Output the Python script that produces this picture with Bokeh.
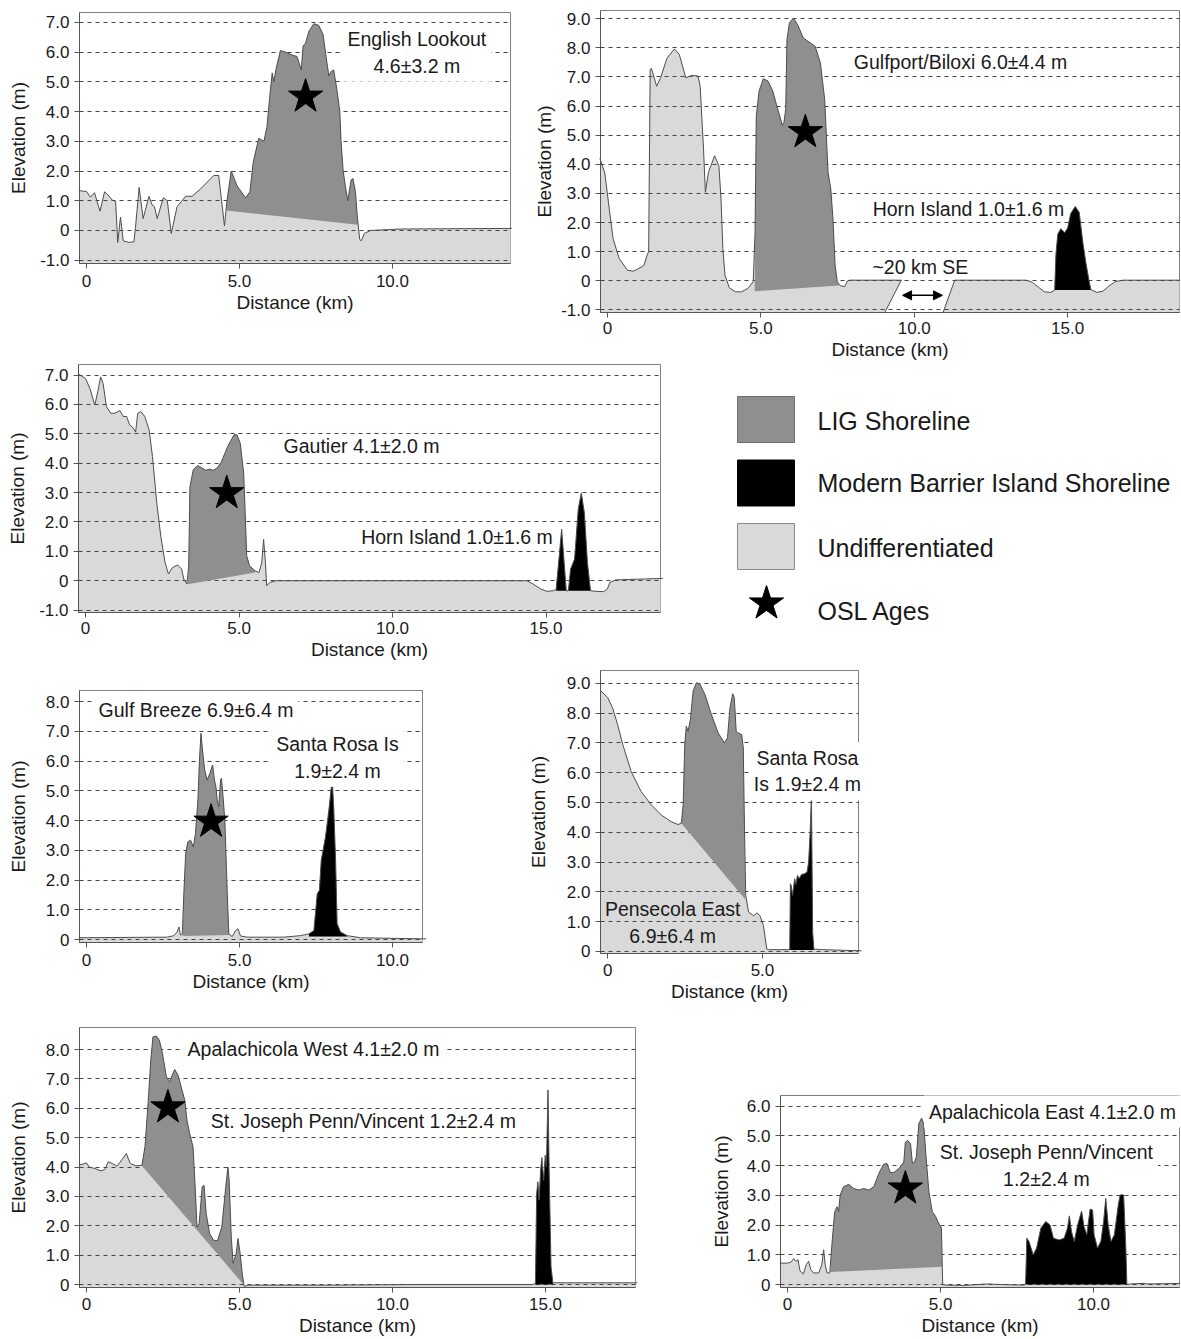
from bokeh.plotting import figure
from bokeh.layouts import column, row
from bokeh.models import Range1d, FixedTicker, Arrow, NormalHead
from bokeh.core.properties import value
from bokeh.embed import file_html
from bokeh.resources import INLINE

FONT = "Liberation Sans"
C_UNDIFF = "#d9d9d9"
C_LIG = "#8f8f8f"
C_MODERN = "#000000"
C_OUT = "#4d4d4d"
TXT = "#1a1a1a"

# ---------------- data (distance km, elevation m) ----------------
p1_profile = [(-0.25, 1.34), (0.0, 1.31), (0.13, 1.12), (0.26, 1.27), (0.44, 0.65), (0.59, 1.30),
              (0.70, 1.20), (0.84, 1.02), (0.95, 0.98), (1.02, -0.40), (1.11, 0.45), (1.20, -0.35),
              (1.38, -0.40), (1.55, -0.38), (1.60, 0.10), (1.72, 1.45), (1.85, 0.40), (2.04, 1.15),
              (2.15, 0.85), (2.22, 0.80), (2.31, 0.40), (2.51, 1.10), (2.64, 1.00), (2.77, -0.10),
              (2.96, 0.80), (3.24, 1.15), (3.45, 1.15), (3.73, 1.40), (4.16, 1.85), (4.32, 1.85),
              (4.51, 0.15), (4.58, 0.90), (4.73, 2.00), (4.92, 1.50), (5.20, 1.10), (5.34, 1.30),
              (5.45, 2.30), (5.63, 3.10), (5.80, 3.00), (5.90, 3.50), (5.99, 4.50), (6.07, 5.30),
              (6.12, 5.00), (6.21, 5.50), (6.34, 6.05), (6.50, 6.00), (6.72, 5.90), (6.88, 5.85),
              (7.02, 5.40), (7.08, 6.20), (7.16, 6.30), (7.27, 6.70), (7.43, 6.95), (7.59, 6.90),
              (7.73, 6.60), (7.81, 6.00), (7.92, 5.20), (8.00, 5.35), (8.08, 5.40), (8.19, 4.70),
              (8.28, 4.00), (8.32, 3.00), (8.39, 2.00), (8.46, 1.50), (8.54, 1.00), (8.65, 1.70),
              (8.71, 1.75), (8.79, 1.30), (8.85, 0.50), (8.93, -0.30), (8.98, -0.35), (9.08, -0.10),
              (9.28, 0.00), (10.26, 0.05), (13.9, 0.07)]
p1_lig_base = (4.58, 0.67, 8.87, 0.19)
p1_star = (7.16, 4.50)

p2a_profile = [(-0.25, 4.20), (-0.09, 3.70), (0.04, 2.60), (0.18, 1.45), (0.38, 0.76), (0.65, 0.36),
               (0.85, 0.33), (1.12, 0.48), (1.19, 0.54), (1.29, 0.88), (1.34, 1.00), (1.39, 7.25),
               (1.43, 7.30), (1.60, 6.68), (1.73, 6.97), (1.94, 7.65), (2.18, 7.96), (2.34, 7.77),
               (2.55, 6.97), (2.75, 7.05), (2.95, 7.03), (3.02, 6.68), (3.13, 4.52), (3.19, 3.04),
               (3.29, 3.72), (3.49, 4.29), (3.63, 3.95), (3.70, 2.81), (3.76, 1.10), (3.83, 0.19),
               (3.97, -0.24), (4.17, -0.38), (4.37, -0.38), (4.58, -0.26), (4.75, -0.03), (4.81, 1.67),
               (4.85, 5.66), (4.94, 6.51), (5.08, 6.94), (5.23, 6.86), (5.39, 6.51), (5.52, 6.00),
               (5.70, 5.34), (5.75, 5.43), (5.81, 5.89), (5.85, 8.28), (5.93, 8.85), (6.06, 9.02),
               (6.20, 8.79), (6.38, 8.34), (6.54, 8.22), (6.77, 8.05), (6.94, 7.48), (7.08, 6.23),
               (7.19, 3.72), (7.28, 3.15), (7.35, 2.13), (7.42, 0.54), (7.49, -0.03), (7.59, -0.17),
               (7.73, -0.20), (7.82, -0.01), (7.89, 0.02), (9.58, 0.02)]
p2b_profile = [(11.32, 0.02), (13.65, 0.02), (13.85, -0.05), (14.05, -0.22), (14.25, -0.38),
               (14.45, -0.40), (14.58, -0.32), (14.62, 0.90), (14.68, 1.60), (14.78, 1.79),
               (14.90, 1.65), (15.00, 1.80), (15.10, 2.30), (15.25, 2.55), (15.38, 2.35),
               (15.50, 1.30), (15.60, 0.60), (15.70, 0.00), (15.76, -0.30), (15.95, -0.40),
               (16.15, -0.36), (16.35, -0.18), (16.55, -0.03), (16.80, 0.02), (18.80, 0.02)]
p2_break_bottom = (9.04, 10.94)
p2_arrow_x = (9.62, 10.92)
p2_arrow_y = -0.50
p2_lig_base = (4.80, -0.36, 7.55, -0.16)
p2_modern = (14.58, 15.76, -0.32)
p2_star = (6.45, 5.10)

p3_profile = [(-0.25, 7.05), (0.0, 6.88), (0.14, 6.55), (0.30, 5.98), (0.41, 6.49), (0.49, 6.94),
              (0.57, 6.72), (0.68, 5.93), (0.82, 5.70), (0.95, 5.70), (1.12, 5.79), (1.23, 5.59),
              (1.34, 5.59), (1.43, 5.31), (1.53, 5.23), (1.63, 5.06), (1.70, 5.70), (1.80, 5.76),
              (1.93, 5.59), (2.07, 5.14), (2.18, 4.23), (2.32, 2.65), (2.45, 1.52), (2.59, 0.62),
              (2.70, 0.23), (2.83, 0.45), (3.00, 0.54), (3.13, 0.40), (3.20, 0.06), (3.30, -0.11),
              (3.36, 0.50), (3.40, 3.20), (3.51, 3.78), (3.65, 3.92), (3.79, 3.84), (3.92, 3.76),
              (4.03, 3.80), (4.16, 3.76), (4.29, 3.84), (4.43, 4.06), (4.63, 4.57), (4.84, 4.97),
              (4.93, 4.97), (5.04, 4.68), (5.15, 3.67), (5.20, 2.31), (5.25, 0.85), (5.34, 0.51),
              (5.52, 0.34), (5.65, 0.28), (5.74, 0.62), (5.80, 1.41), (5.86, 0.62), (5.90, -0.17),
              (6.00, -0.06), (6.20, 0.00), (14.38, 0.00), (14.58, -0.11), (14.83, -0.28),
              (15.03, -0.36), (15.23, -0.34), (15.33, -0.30), (15.51, 1.75), (15.66, -0.34),
              (15.73, -0.34), (15.80, 0.40), (15.93, 0.73), (16.05, 2.43), (16.15, 2.99),
              (16.25, 2.31), (16.35, 0.62), (16.45, -0.34), (16.63, -0.36), (16.88, -0.37),
              (17.00, -0.28), (17.08, -0.06), (17.28, 0.03), (18.80, 0.08)]
p3_lig_base = (3.33, -0.12, 5.52, 0.28)
p3_modern = (15.33, 16.45, -0.34)
p3_star = (4.60, 2.98)

p4_profile = [(-0.25, 0.06), (2.64, 0.08), (2.85, 0.13), (2.96, 0.25), (3.02, 0.42), (3.07, 0.15),
              (3.13, 0.19), (3.18, 1.54), (3.24, 2.89), (3.31, 3.28), (3.40, 3.34), (3.49, 3.11),
              (3.56, 3.56), (3.64, 4.69), (3.69, 6.03), (3.74, 6.93), (3.79, 6.37), (3.86, 5.70),
              (3.94, 5.36), (4.03, 5.58), (4.12, 5.87), (4.18, 5.36), (4.23, 5.13), (4.27, 4.69),
              (4.32, 4.46), (4.38, 5.36), (4.41, 5.42), (4.47, 4.69), (4.52, 4.01), (4.60, 1.54),
              (4.65, 0.19), (4.76, 0.10), (4.87, 0.30), (4.95, 0.36), (5.03, 0.12), (5.25, 0.08),
              (6.45, 0.08), (6.99, 0.13), (7.27, 0.19), (7.43, 0.30), (7.54, 1.54), (7.61, 1.65),
              (7.67, 2.66), (7.81, 3.45), (7.92, 4.35), (8.00, 5.13), (8.04, 5.19), (8.08, 4.40),
              (8.14, 2.66), (8.19, 0.53), (8.30, 0.25), (8.52, 0.13), (8.95, 0.06), (11.1, 0.02)]
p4_lig_base = (3.14, 0.12, 4.66, 0.15)
p4_modern = (7.27, 8.52, 0.10)
p4_star = (4.07, 3.96)

p5_profile = [(-0.25, 8.78), (0.0, 8.52), (0.16, 8.18), (0.32, 7.62), (0.49, 6.94), (0.76, 6.04),
              (1.08, 5.37), (1.41, 4.92), (1.73, 4.58), (2.06, 4.35), (2.27, 4.26), (2.38, 4.30),
              (2.44, 4.92), (2.49, 6.94), (2.54, 7.56), (2.60, 7.39), (2.68, 7.84), (2.76, 8.74),
              (2.87, 9.02), (2.98, 8.97), (3.14, 8.63), (3.35, 7.95), (3.57, 7.33), (3.77, 7.00),
              (3.87, 7.17), (3.95, 8.18), (4.04, 8.65), (4.09, 8.52), (4.15, 7.39), (4.22, 7.33),
              (4.33, 7.28), (4.38, 6.83), (4.42, 4.02), (4.46, 1.88), (4.55, 1.32), (4.71, 1.20),
              (4.82, 1.29), (4.92, 1.20), (5.03, 0.87), (5.09, 0.42), (5.14, 0.08), (5.19, 0.06),
              (5.88, 0.06), (5.90, 2.27), (5.93, 2.20), (5.97, 1.88), (6.04, 2.44), (6.08, 2.25),
              (6.13, 2.55), (6.19, 2.45), (6.26, 2.58), (6.36, 2.61), (6.44, 2.67), (6.49, 3.00),
              (6.54, 4.02), (6.58, 5.25), (6.62, 0.64), (6.66, 0.08), (6.93, 0.06), (8.2, 0.02)]
p5_lig_base = (2.38, 4.30, 4.44, 1.75)
p5_modern = (5.88, 6.66, 0.05)

p6_profile = [(-0.25, 4.06), (0.0, 4.14), (0.09, 4.00), (0.27, 3.95), (0.47, 3.87), (0.60, 3.92),
              (0.71, 4.18), (0.84, 4.12), (1.00, 4.03), (1.16, 4.26), (1.30, 4.46), (1.43, 4.12),
              (1.61, 4.04), (1.81, 4.06), (1.91, 4.69), (2.01, 6.16), (2.10, 7.64), (2.17, 8.43),
              (2.28, 8.46), (2.38, 8.32), (2.48, 7.87), (2.61, 7.07), (2.72, 6.90), (2.80, 7.13),
              (2.88, 7.32), (2.99, 7.13), (3.12, 6.62), (3.21, 6.28), (3.28, 5.60), (3.37, 5.14),
              (3.48, 4.69), (3.55, 3.33), (3.61, 1.96), (3.68, 2.08), (3.78, 3.33), (3.84, 3.38),
              (3.91, 2.42), (4.02, 1.74), (4.15, 1.51), (4.28, 1.49), (4.42, 1.96), (4.55, 3.33),
              (4.62, 4.00), (4.66, 3.55), (4.73, 1.62), (4.79, 0.72), (4.89, 1.06), (4.95, 1.57),
              (5.02, 1.06), (5.09, 0.37), (5.15, -0.06), (5.29, -0.02), (7.97, -0.02), (10.64, 0.00),
              (14.57, 0.00), (14.67, 0.04), (14.71, 3.10), (14.75, 3.50), (14.79, 2.87), (14.84, 3.89),
              (14.88, 4.32), (14.94, 3.55), (14.99, 4.40), (15.03, 4.00), (15.08, 6.62), (15.12, 3.78),
              (15.18, 0.60), (15.24, 0.06), (18.0, 0.06)]
p6_lig_base = (1.81, 4.04, 5.15, -0.02)
p6_modern = (14.67, 15.24, 0.0)
p6_star = (2.66, 6.03)

p7_profile = [(-0.25, 0.72), (0.0, 0.72), (0.11, 0.75), (0.20, 0.87), (0.28, 0.78), (0.34, 0.84),
              (0.41, 0.45), (0.52, 0.36), (0.61, 0.67), (0.69, 0.78), (0.76, 0.50), (0.85, 0.39),
              (1.02, 0.39), (1.12, 0.67), (1.18, 1.17), (1.23, 0.67), (1.29, 0.39), (1.38, 0.39),
              (1.45, 1.34), (1.54, 2.45), (1.62, 2.62), (1.67, 2.45), (1.72, 3.01), (1.83, 3.29),
              (2.00, 3.37), (2.16, 3.23), (2.33, 3.18), (2.49, 3.23), (2.65, 3.18), (2.82, 3.29),
              (2.98, 3.73), (3.14, 4.05), (3.25, 4.07), (3.36, 3.77), (3.47, 3.77), (3.64, 3.90),
              (3.80, 4.12), (3.85, 4.79), (3.93, 4.85), (4.02, 4.74), (4.08, 4.07), (4.15, 4.12),
              (4.21, 4.29), (4.29, 5.41), (4.38, 5.60), (4.45, 5.41), (4.54, 4.12), (4.62, 3.12),
              (4.73, 2.45), (4.84, 2.29), (4.91, 2.12), (5.03, 1.90), (5.07, 0.00), (5.16, -0.02),
              (5.76, -0.03), (6.53, 0.02), (6.97, 0.00), (7.71, -0.02), (7.78, 0.00), (7.82, 1.56),
              (7.89, 1.45), (8.03, 1.00), (8.14, 1.23), (8.28, 1.90), (8.44, 2.12), (8.58, 2.00),
              (8.69, 1.56), (8.88, 1.50), (9.04, 1.56), (9.15, 1.90), (9.21, 2.31), (9.28, 1.78),
              (9.37, 1.45), (9.48, 2.00), (9.61, 2.47), (9.69, 1.95), (9.78, 1.67), (9.89, 2.54),
              (9.97, 2.51), (10.02, 1.67), (10.13, 1.23), (10.24, 1.45), (10.33, 2.12), (10.40, 2.90),
              (10.48, 2.00), (10.57, 1.45), (10.68, 1.67), (10.81, 2.68), (10.90, 3.18), (10.98, 3.12),
              (11.06, 1.11), (11.09, 0.00), (11.22, 0.02), (11.66, 0.04), (11.77, 0.02), (13.0, 0.04)]
p7_lig_base = (1.40, 0.42, 5.05, 0.60)
p7_modern = (7.78, 11.09, 0.0)
p7_star = (3.85, 3.23)

legend_labels = ["LIG Shoreline", "Modern Barrier Island Shoreline", "Undifferentiated", "OSL Ages"]
legend_fills = [C_LIG, C_MODERN, C_UNDIFF, None]
legend_lines = ["#6e6e6e", "#000000", "#8a8a8a", None]


def unzip(pairs):
    return [a for a, _ in pairs], [b for _, b in pairs]


def tick_label(v):
    return "0" if v == 0 else f"{v:.1f}"


def make_fig(W, H, bl, br, bt, bb, xr, yr, yticks, xticks, als, s1, s2):
    p = figure(width=W, height=H, x_range=Range1d(*xr), y_range=Range1d(*yr),
               output_backend="svg", toolbar_location=None,
               min_border_left=bl, min_border_right=br, min_border_top=bt, min_border_bottom=bb)
    p.frame_align = False
    p.outline_line_color = "#808080"
    p.outline_line_width = 1
    p.xaxis.ticker = FixedTicker(ticks=xticks, minor_ticks=[])
    p.yaxis.ticker = FixedTicker(ticks=yticks, minor_ticks=[])
    p.xaxis.major_label_overrides = {v: tick_label(v) for v in xticks}
    p.yaxis.major_label_overrides = {v: tick_label(v) for v in yticks}
    for ax in (p.xaxis[0], p.yaxis[0]):
        ax.major_label_text_font = FONT
        ax.major_label_text_font_size = "17px"
        ax.major_label_text_color = TXT
        ax.axis_label_text_font = FONT
        ax.axis_label_text_font_size = "19px"
        ax.axis_label_text_font_style = "normal"
        ax.axis_label_text_color = TXT
        ax.axis_line_color = "#555555"
        ax.major_tick_line_color = "#555555"
        ax.major_tick_out = 5
        ax.major_tick_in = 0
        ax.minor_tick_out = 0
        ax.minor_tick_in = 0
    p.xaxis.axis_label = "Distance (km)"
    p.yaxis.axis_label = "Elevation (m)"
    p.xaxis.major_label_standoff = s1
    p.xaxis.axis_label_standoff = s2
    p.yaxis.major_label_standoff = 5
    p.yaxis.axis_label_standoff = als
    p.xgrid.visible = False
    g = p.ygrid[0]
    g.ticker = FixedTicker(ticks=yticks, minor_ticks=[])
    g.grid_line_color = "#444444"
    g.grid_line_dash = "4 4"
    g.grid_line_width = 1
    g.level = "guide"
    return p


def fill_undiff(p, xs, ys, ybot):
    p.patch([xs[0]] + xs + [xs[-1]], [ybot] + ys + [ybot], fill_color=C_UNDIFF, line_color=None)


def fill_lig(p, xs, ys, base):
    x0, y0, x1, y1 = base
    sel = [(x, y) for x, y in zip(xs, ys) if x0 <= x <= x1]
    p.patch([x0] + [s[0] for s in sel] + [x1], [y0] + [s[1] for s in sel] + [y1],
            fill_color=C_LIG, line_color=None, level="annotation")


def fill_modern(p, xs, ys, spec):
    x0, x1, base = spec
    sel = [(x, y) for x, y in zip(xs, ys) if x0 <= x <= x1]
    p.patch([x0] + [s[0] for s in sel] + [x1], [base] + [s[1] for s in sel] + [base],
            fill_color=C_MODERN, line_color=None, level="annotation")


def outline(p, xs, ys):
    p.line(xs, ys, line_color=C_OUT, line_width=1, level="annotation")


def star(p, pt, size=36):
    p.scatter([pt[0]], [pt[1]], marker="star", size=size, fill_color="black",
              line_color="black", level="overlay")


def label(p, x, y, t, align="center", bg=False):
    kw = dict(text_font=value(FONT), text_font_size="19.5px", text_color=TXT,
              text_align=align, text_baseline="middle", level="overlay")
    if bg:
        kw.update(background_fill_color="white", padding=5)
    p.text(x=[x], y=[y], text=[t], **kw)


def standard_panel(p, prof, lig, modern, yr):
    xs, ys = unzip(prof)
    fill_undiff(p, xs, ys, yr[0] - 0.1)
    if lig:
        fill_lig(p, xs, ys, lig)
    if modern:
        fill_modern(p, xs, ys, modern)
    outline(p, xs, ys)


# ---------------- panel 1: English Lookout ----------------
yr1 = (-1.11, 7.33)
p1 = make_fig(530, 363, 79, 20, 12, 100, (-0.23, 13.86), yr1, list(range(-1, 8)), [0, 5, 10], 8, 6, 2)
standard_panel(p1, p1_profile, p1_lig_base, None, yr1)
star(p1, p1_star)
label(p1, 10.8, 5.98, "English Lookout\n4.6±3.2 m", bg=True)

# ---------------- panel 2: Gulfport/Biloxi ----------------
yr2 = (-1.09, 9.28)
p2 = make_fig(650, 363, 70, 1, 10, 51, (-0.23, 18.65), yr2, list(range(-1, 10)), [0, 5, 10, 15], 3, 4, 2)
ax_, ay_ = unzip(p2a_profile)
bx_, by_ = unzip(p2b_profile)
p2.patch([ax_[0]] + ax_ + [p2_break_bottom[0]], [yr2[0]] + ay_ + [yr2[0]],
         fill_color=C_UNDIFF, line_color=None)
p2.patch([p2_break_bottom[1]] + bx_ + [bx_[-1]], [yr2[0]] + by_ + [yr2[0]],
         fill_color=C_UNDIFF, line_color=None)
fill_lig(p2, ax_, ay_, p2_lig_base)
fill_modern(p2, bx_, by_, p2_modern)
outline(p2, ax_ + [p2_break_bottom[0]], ay_ + [yr2[0]])
outline(p2, [p2_break_bottom[1]] + bx_, [yr2[0]] + by_)
star(p2, p2_star)
label(p2, 11.51, 7.50, "Gulfport/Biloxi 6.0±4.4 m")
label(p2, 11.77, 2.46, "Horn Island 1.0±1.6 m")
label(p2, 10.2, 0.48, "~20 km SE")
p2.add_layout(Arrow(x_start=p2_arrow_x[0], y_start=p2_arrow_y, x_end=p2_arrow_x[1], y_end=p2_arrow_y,
                    line_color="black", line_width=1.5,
                    start=NormalHead(size=9, fill_color="black", line_color="black"),
                    end=NormalHead(size=9, fill_color="black", line_color="black")))

# ---------------- panel 3: Gautier ----------------
yr3 = (-1.08, 7.36)
p3 = make_fig(700, 300, 78, 40, 1, 51, (-0.23, 18.73), yr3, list(range(-1, 8)), [0, 5, 10, 15], 8, 4, 2)
standard_panel(p3, p3_profile, p3_lig_base, p3_modern, yr3)
star(p3, p3_star)
label(p3, 8.99, 4.58, "Gautier 4.1±2.0 m")
label(p3, 12.1, 1.49, "Horn Island 1.0±1.6 m")

# ---------------- legend ----------------
leg = figure(width=480, height=300, x_range=Range1d(0, 480), y_range=Range1d(300, 0),
             output_backend="svg", toolbar_location=None, min_border=0,
             x_axis_location=None, y_axis_location=None)
leg.frame_align = False
leg.outline_line_color = None
for gr in leg.grid:
    gr.visible = False
box_rows = [i for i, f in enumerate(legend_fills) if f is not None]
leg.quad(left=[37] * len(box_rows), right=[94] * len(box_rows),
         top=[33 + 63.5 * i for i in box_rows], bottom=[79 + 63.5 * i for i in box_rows],
         fill_color=[legend_fills[i] for i in box_rows], line_color=[legend_lines[i] for i in box_rows],
         line_width=1)
leg.scatter([66], [240], marker="star", size=36, fill_color="black", line_color="black")
leg.text(x=[117] * 4, y=[57, 119, 184, 247], text=legend_labels, text_font=value(FONT),
         text_font_size="25px", text_color=TXT, text_baseline="middle", text_align="left")

# ---------------- panel 4: Gulf Breeze ----------------
yr4 = (-0.10, 8.37)
p4 = make_fig(520, 343, 79, 98, 27, 64, (-0.23, 10.98), yr4, list(range(0, 9)), [0, 5, 10], 14, 6, 2)
standard_panel(p4, p4_profile, p4_lig_base, p4_modern, yr4)
star(p4, p4_star)
label(p4, 0.23, 7.70, "Gulf Breeze 6.9±6.4 m", align="left", bg=True)
label(p4, 8.2, 6.12, "Santa Rosa Is\n1.9±2.4 m", bg=True)

# ---------------- panel 5: Pensecola East ----------------
yr5 = (-0.07, 9.43)
p5 = make_fig(350, 343, 80, 12, 7, 53, (-0.23, 8.1), yr5, list(range(0, 10)), [0, 5], 15, 5, 2)
standard_panel(p5, p5_profile, p5_lig_base, p5_modern, yr5)
label(p5, 6.45, 6.05, "Santa Rosa\nIs 1.9±2.4 m", bg=True)
label(p5, 2.1, 0.97, "Pensecola East\n6.9±6.4 m")

# ---------------- panel 6: Apalachicola West ----------------
yr6 = (-0.10, 8.75)
p6 = make_fig(700, 333, 79, 65, 21, 52, (-0.23, 17.94), yr6, list(range(0, 9)), [0, 5, 10, 15], 14, 5, 2)
standard_panel(p6, p6_profile, p6_lig_base, p6_modern, yr6)
star(p6, p6_star)
label(p6, 7.42, 8.03, "Apalachicola West 4.1±2.0 m", bg=True)
label(p6, 9.05, 5.56, "St. Joseph Penn/Vincent 1.2±2.4 m")

# ---------------- panel 7: Apalachicola East ----------------
yr7 = (-0.10, 6.36)
p7 = make_fig(480, 333, 80, 1, 89, 52, (-0.23, 12.81), yr7, list(range(0, 7)), [0, 5, 10], 12, 5, 2)
standard_panel(p7, p7_profile, p7_lig_base, p7_modern, yr7)
star(p7, p7_star)
label(p7, 8.66, 5.82, "Apalachicola East 4.1±2.0 m", bg=True)
label(p7, 8.46, 4.01, "St. Joseph Penn/Vincent\n1.2±2.4 m", bg=True)

layout = column(row(p1, p2), row(p3, leg), row(p4, p5), row(p6, p7))
open("out.html", "w").write(file_html(layout, INLINE))
